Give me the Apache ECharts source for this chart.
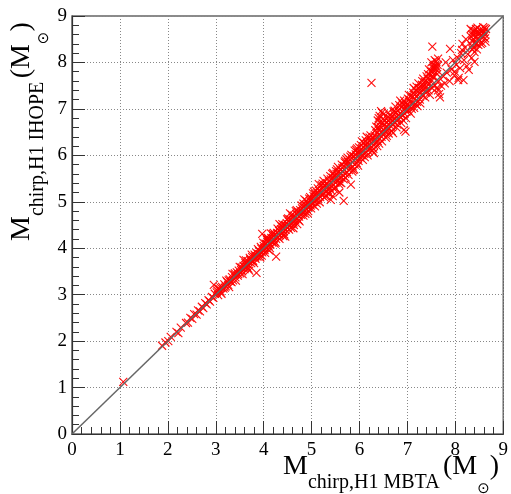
<!DOCTYPE html>
<html><head><meta charset="utf-8">
<script src="https://cdn.jsdelivr.net/npm/echarts@6/dist/echarts.min.js"></script>
<style>html,body{margin:0;padding:0;background:#fff}#c{width:511px;height:494px}</style>
</head><body><div id="c"></div>
<script>
// axis range / ticks
const axisMin = 0, axisMax = 9, axisStep = 1;
const diagonal = [[0, 0], [9, 9]];
// (MBTA chirp mass, IHOPE chirp mass)
const pts1to3 = [[1.07,1.12],[1.88,1.90],[1.95,1.97],[2.01,2.00],[2.06,2.09],[2.18,2.20],[2.22,2.17],[2.27,2.29],
[2.38,2.39],[2.42,2.40],[2.47,2.50],[2.51,2.48],[2.55,2.58],[2.60,2.57],[2.63,2.66],[2.67,2.64],[2.71,2.74],
[2.74,2.71],[2.78,2.82],[2.81,2.79],[2.85,2.88],[2.88,2.85],[2.92,2.95],[2.95,2.93],[2.98,3.02],[2.96,3.21]];
const pts3to4 = [[3.02,3.05],[3.05,2.99],[3.08,3.12],[3.10,3.07],[3.13,3.17],[3.16,3.13],[3.18,3.22],[3.21,3.18],
[3.24,3.27],[3.26,3.21],[3.29,3.33],[3.31,3.28],[3.34,3.38],[3.36,3.31],[3.39,3.43],[3.41,3.37],[3.44,3.48],
[3.46,3.41],[3.48,3.52],[3.51,3.46],[3.53,3.57],[3.55,3.50],[3.58,3.62],[3.60,3.55],[3.62,3.68],[3.65,3.60],
[3.67,3.72],[3.69,3.63],[3.72,3.76],[3.74,3.68],[3.76,3.81],[3.78,3.73],[3.81,3.86],[3.83,3.77],[3.85,3.90],
[3.87,3.82],[3.90,3.95],[3.92,3.86],[3.95,3.99],[3.97,3.91],[3.85,3.47],[3.58,3.75],[3.70,3.52]];
const pts4to5 = [[4.00,4.05],[4.02,3.96],[4.04,4.10],[4.06,4.01],[4.08,4.14],[4.10,4.05],[4.12,4.18],[4.14,4.08],
[4.16,4.22],[4.18,4.12],[4.20,4.26],[4.22,4.15],[4.24,4.29],[4.26,4.20],[4.28,4.33],[4.30,4.24],[4.32,4.38],
[4.34,4.28],[4.36,4.41],[4.38,4.32],[4.40,4.46],[4.42,4.36],[4.44,4.50],[4.46,4.40],[4.48,4.54],[4.50,4.44],
[4.52,4.58],[4.54,4.48],[4.56,4.62],[4.58,4.52],[4.60,4.66],[4.62,4.55],[4.64,4.70],[4.66,4.60],[4.68,4.74],
[4.70,4.63],[4.72,4.78],[4.74,4.68],[4.76,4.82],[4.78,4.72],[4.80,4.86],[4.82,4.76],[4.84,4.90],[4.86,4.80],
[4.88,4.94],[4.90,4.84],[4.92,4.98],[4.94,4.88],[4.96,5.02],[4.98,4.92],[3.97,4.31],[4.26,3.82],[4.15,4.32],
[4.45,4.25],[4.55,4.75],[4.70,4.52],[4.85,5.05],[4.62,4.43],[4.33,4.52],[4.12,3.95],[4.05,4.22],[4.92,4.75]];
const pts5to6 = [[5.00,5.06],[5.02,4.94],[5.04,5.12],[5.06,5.00],[5.08,5.16],[5.10,5.03],[5.12,5.20],[5.14,5.07],
[5.16,5.24],[5.18,5.10],[5.20,5.28],[5.22,5.14],[5.24,5.31],[5.26,5.18],[5.28,5.36],[5.30,5.21],[5.32,5.40],
[5.34,5.25],[5.36,5.44],[5.38,5.29],[5.40,5.48],[5.42,5.33],[5.44,5.52],[5.46,5.37],[5.48,5.57],[5.50,5.41],
[5.52,5.60],[5.54,5.45],[5.56,5.64],[5.58,5.49],[5.60,5.69],[5.62,5.52],[5.64,5.73],[5.66,5.56],[5.68,5.77],
[5.70,5.60],[5.72,5.82],[5.74,5.64],[5.76,5.86],[5.78,5.68],[5.80,5.90],[5.82,5.72],[5.84,5.94],[5.86,5.76],
[5.88,5.98],[5.90,5.80],[5.92,6.02],[5.94,5.84],[5.96,6.06],[5.98,5.88],[5.40,5.04],[5.67,5.02],[5.82,5.37],
[5.15,5.38],[5.35,5.18],[5.55,5.75],[5.75,5.95],[5.45,5.62],[5.62,5.40],[5.25,5.45],[5.05,5.22],[5.90,6.10],
[5.70,5.88],[5.85,5.65],[5.50,5.30],[5.95,6.15]];
const pts6to7 = [[6.00,6.08],[6.02,5.95],[6.04,6.14],[6.06,6.00],[6.08,6.18],[6.10,6.03],[6.12,6.22],[6.14,6.07],
[6.16,6.26],[6.18,6.10],[6.20,6.30],[6.22,6.14],[6.24,6.34],[6.26,6.18],[6.28,6.38],[6.30,6.22],[6.32,6.43],
[6.34,6.27],[6.36,6.48],[6.38,6.31],[6.40,6.55],[6.42,6.36],[6.44,6.62],[6.46,6.40],[6.48,6.70],[6.50,6.45],
[6.52,6.66],[6.54,6.50],[6.56,6.70],[6.58,6.54],[6.60,6.74],[6.62,6.58],[6.64,6.79],[6.66,6.62],[6.68,6.83],
[6.70,6.66],[6.72,6.88],[6.74,6.70],[6.76,6.92],[6.78,6.74],[6.80,6.96],[6.82,6.78],[6.84,7.00],[6.86,6.82],
[6.88,7.04],[6.90,6.86],[6.92,7.08],[6.94,6.90],[6.96,7.12],[6.98,6.94],[6.42,6.85],[6.45,6.95],[6.38,6.75],
[6.50,6.88],[6.93,6.55],[6.96,6.51],[6.25,7.56],[6.70,6.48],[6.60,6.92],[6.15,6.40],[6.05,6.30],[6.30,6.05],
[6.85,7.18],[6.75,7.05],[6.55,6.38]];
const pts7to8 = [[7.00,7.10],[7.02,6.96],[7.04,7.20],[7.06,7.05],[7.08,7.28],[7.10,7.12],[7.12,7.35],[7.14,7.02],
[7.16,7.22],[7.18,7.40],[7.20,7.15],[7.22,7.30],[7.24,7.45],[7.26,7.20],[7.28,7.36],[7.30,7.52],[7.32,7.28],
[7.34,7.42],[7.36,7.58],[7.38,7.35],[7.40,7.48],[7.42,7.65],[7.44,7.40],[7.46,7.55],[7.48,7.72],[7.50,7.62],
[7.52,7.80],[7.54,7.68],[7.56,7.88],[7.58,7.95],[7.60,8.02],[7.62,7.75],[7.64,8.08],[7.60,7.85],[7.55,7.92],
[7.50,8.00],[7.62,7.46],[7.66,7.32],[7.68,7.25],[7.64,7.40],[7.52,8.34],[7.89,8.29],[8.14,8.27],[7.75,7.70],
[7.82,7.78],[7.88,7.60],[7.92,7.85],[7.98,7.72],[8.02,7.95],[8.06,7.62],[8.10,7.88],[7.80,8.00],[7.95,8.05],
[8.05,8.10],[7.78,7.55],[7.70,7.50]];
const pts8to9 = [[8.12,8.20],[8.15,8.40],[8.18,8.05],[8.20,8.32],[8.22,8.50],[8.24,7.92],[8.26,8.18],[8.17,7.62],
[8.07,7.67],[7.99,7.80],[8.28,7.84],[8.34,8.10],[8.40,8.01],[8.32,8.72],[8.35,8.60],[8.36,8.45],[8.38,8.32],
[8.40,8.68],[8.42,8.55],[8.44,8.40],[8.46,8.75],[8.48,8.62],[8.50,8.48],[8.52,8.70],[8.54,8.58],[8.56,8.42],
[8.58,8.76],[8.60,8.65],[8.62,8.52],[8.64,8.72],[8.38,8.50],[8.45,8.28],[8.55,8.65],[8.34,8.36],[8.48,8.38],
[8.62,8.60],[8.40,8.22]];
const ptsWide3to5 = [[3.05,3.14],[3.12,3.02],[3.22,3.30],[3.28,3.16],[3.35,3.45],[3.42,3.30],[3.50,3.60],[3.56,3.44],
[3.63,3.74],[3.68,3.56],[3.75,3.86],[3.80,3.68],[3.88,3.98],[3.93,3.80],[3.99,4.12],[4.03,3.90],[4.09,4.22],
[4.13,4.00],[4.19,4.31],[4.23,4.10],[4.29,4.42],[4.33,4.20],[4.39,4.52],[4.43,4.30],[4.49,4.62],[4.53,4.40],
[4.59,4.72],[4.63,4.50],[4.69,4.82],[4.73,4.60],[4.79,4.92],[4.83,4.70],[4.89,5.02],[4.93,4.80],[4.97,5.10],
[4.99,4.86],[4.11,4.11],[4.21,4.20],[4.31,4.30],[4.41,4.42],[4.51,4.50],[4.61,4.60],[4.71,4.72],[4.81,4.80],
[4.91,4.90],[3.53,3.53],[3.63,3.63],[3.73,3.74],[3.83,3.83],[3.93,3.92]];
const ptsWide5to7 = [[5.03,5.18],[5.07,4.90],[5.13,5.29],[5.17,4.99],[5.23,5.39],[5.27,5.09],[5.33,5.50],[5.37,5.18],
[5.43,5.60],[5.47,5.28],[5.53,5.70],[5.57,5.38],[5.63,5.80],[5.67,5.48],[5.73,5.91],[5.77,5.58],[5.83,6.01],
[5.87,5.68],[5.93,6.12],[5.97,5.78],[6.03,6.22],[6.07,5.90],[6.13,6.32],[6.17,6.00],[6.23,6.43],[6.27,6.10],
[6.33,6.54],[6.37,6.20],[6.43,6.72],[6.47,6.30],[6.53,6.76],[6.57,6.42],[6.63,6.86],[6.67,6.52],[6.73,6.96],
[6.77,6.60],[6.83,7.08],[6.87,6.70],[6.93,7.18],[6.97,6.80],[5.05,5.05],[5.15,5.14],[5.25,5.26],[5.35,5.34],
[5.45,5.46],[5.55,5.55],[5.65,5.66],[5.75,5.76],[5.85,5.86],[5.95,5.96],[6.05,6.07],[6.15,6.17],[6.25,6.28],
[6.35,6.38],[6.45,6.50],[6.55,6.60],[6.65,6.70],[6.75,6.80],[6.85,6.90],[6.95,7.00]];
const ptsWide7to8 = [[7.03,7.30],[7.07,6.90],[7.13,7.45],[7.17,7.10],[7.23,7.55],[7.27,7.12],[7.33,7.65],[7.37,7.25],
[7.43,7.75],[7.47,7.30],[7.53,7.70],[7.57,7.50],[7.61,7.90],[7.45,7.85],[7.40,7.70],[7.35,7.50],[7.25,7.35],
[7.15,7.30],[7.05,7.15]];
const ptsFill = [[3.03,3.09],[3.11,3.14],[3.19,3.15],[3.27,3.31],[3.33,3.27],[3.40,3.46],[3.47,3.44],[3.54,3.59],
[3.61,3.58],[3.66,3.66],[3.71,3.79],[3.77,3.71],[3.82,3.80],[3.89,3.88],[3.94,4.03],[3.96,3.84],
[4.01,4.00],[4.07,4.18],[4.09,3.98],[4.17,4.15],[4.21,4.33],[4.25,4.12],[4.35,4.35],[4.37,4.47],[4.41,4.26],
[4.47,4.47],[4.51,4.64],[4.57,4.44],[4.65,4.65],[4.67,4.80],[4.75,4.58],[4.77,4.77],[4.83,4.96],[4.87,4.74],
[4.93,4.95],[4.95,5.07],[5.01,5.00],[5.09,5.24],[5.11,4.96],[5.19,5.19],[5.21,5.36],[5.29,5.12],[5.31,5.31],
[5.39,5.55],[5.41,5.24],[5.49,5.50],[5.51,5.66],[5.59,5.42],[5.61,5.62],[5.69,5.85],[5.71,5.52],[5.79,5.80],
[5.81,5.97],[5.89,5.70],[5.91,5.92],[5.99,6.17],[5.58,5.20],[5.44,5.12],[6.01,6.02],[6.09,6.27],[6.11,5.96],
[6.19,6.20],[6.21,6.38],[6.29,6.14],[6.31,6.33],[6.39,6.60],[6.41,6.25],[6.49,6.78],[6.51,6.55],[6.59,6.82],
[6.61,6.47],[6.69,6.75],[6.71,6.94],[6.79,6.66],[6.81,6.87],[6.89,7.12],[6.91,6.76],[6.99,7.05],[6.47,6.92],
[6.40,6.80],[6.35,6.62],[7.01,7.22],[7.09,7.00],[7.11,7.26],[7.19,7.48],[7.21,7.06],[7.29,7.44],[7.31,7.60],
[7.39,7.40],[7.41,7.58],[7.49,7.80],[7.51,7.45],[7.59,7.78],[7.63,7.95],[7.57,8.05],[7.65,7.60],[7.53,7.88],
[8.33,8.55],[8.37,8.68],[8.41,8.42],[8.43,8.72],[8.47,8.52],[8.51,8.62],[8.53,8.40],[8.57,8.70],[8.59,8.55],
[8.61,8.74],[8.63,8.45],[8.39,8.60],[8.46,8.65],[8.36,8.28]];

const points = [].concat(pts1to3, pts3to4, pts4to5, pts5to6, pts6to7, pts7to8, pts8to9,
  ptsWide3to5, ptsWide5to7, ptsWide7to8, ptsFill);

const serif = 'Liberation Serif';
const rich = {
  M: {fontFamily: serif, fontSize: 28, lineHeight: 32, verticalAlign: 'top', color: '#000'},
  s: {fontFamily: serif, fontSize: 20, lineHeight: 20, padding: [20, 0, 0, 0], verticalAlign: 'top', color: '#000'},
  o: {fontFamily: 'DejaVu Sans', fontSize: 15, lineHeight: 15, padding: [29, 0, 0, 0], verticalAlign: 'top', color: '#000'}
};

function axisCommon(margin) {
  return {
    type: 'value', min: axisMin, max: axisMax, interval: axisStep,
    axisLine: {show: true, lineStyle: {color: '#333', width: 1.2}},
    axisTick: {show: true, inside: true, length: 13, lineStyle: {color: '#333', width: 1}},
    minorTick: {show: true, splitNumber: 5, length: 7, lineStyle: {color: '#333', width: 1}},
    splitLine: {show: true, lineStyle: {color: '#888', width: 1, type: [1, 2]}},
    axisLabel: {margin: margin, showMinLabel: true, showMaxLabel: true,
      fontFamily: serif, fontSize: 19, color: '#000'}
  };
}

const chart = echarts.init(document.getElementById('c'), null, {renderer: 'canvas'});
chart.setOption({
  animation: false,
  backgroundColor: '#fff',
  textStyle: {fontFamily: serif},
  grid: {left: 72, right: 4, top: 16, bottom: 60, show: true, borderColor: '#666', borderWidth: 1.5, backgroundColor: 'transparent'},
  xAxis: axisCommon(7),
  yAxis: axisCommon(5),
  series: [
    {type: 'scatter', data: points, symbol: 'path://M0,0L10,10M10,0L0,10', symbolSize: 8,
     itemStyle: {color: 'rgba(0,0,0,0)', borderColor: '#ff0000', borderWidth: 1.1, opacity: 0.95}, z: 2},
    {type: 'line', data: diagonal, symbol: 'none', lineStyle: {color: '#666', width: 1.5}, z: 3}
  ],
  graphic: [
    {type: 'text', left: 283, top: 453, style: {text: '{M|M}{s|chirp,H1 MBTA} {M|(M}{o|⊙}{M|)}', rich: rich}},
    {type: 'text', x: 8, y: 241, rotation: Math.PI / 2, style: {text: '{M|M}{s|chirp,H1 IHOPE} {M|(M}{o|⊙}{M|)}', rich: rich}}
  ]
});
</script></body></html>
